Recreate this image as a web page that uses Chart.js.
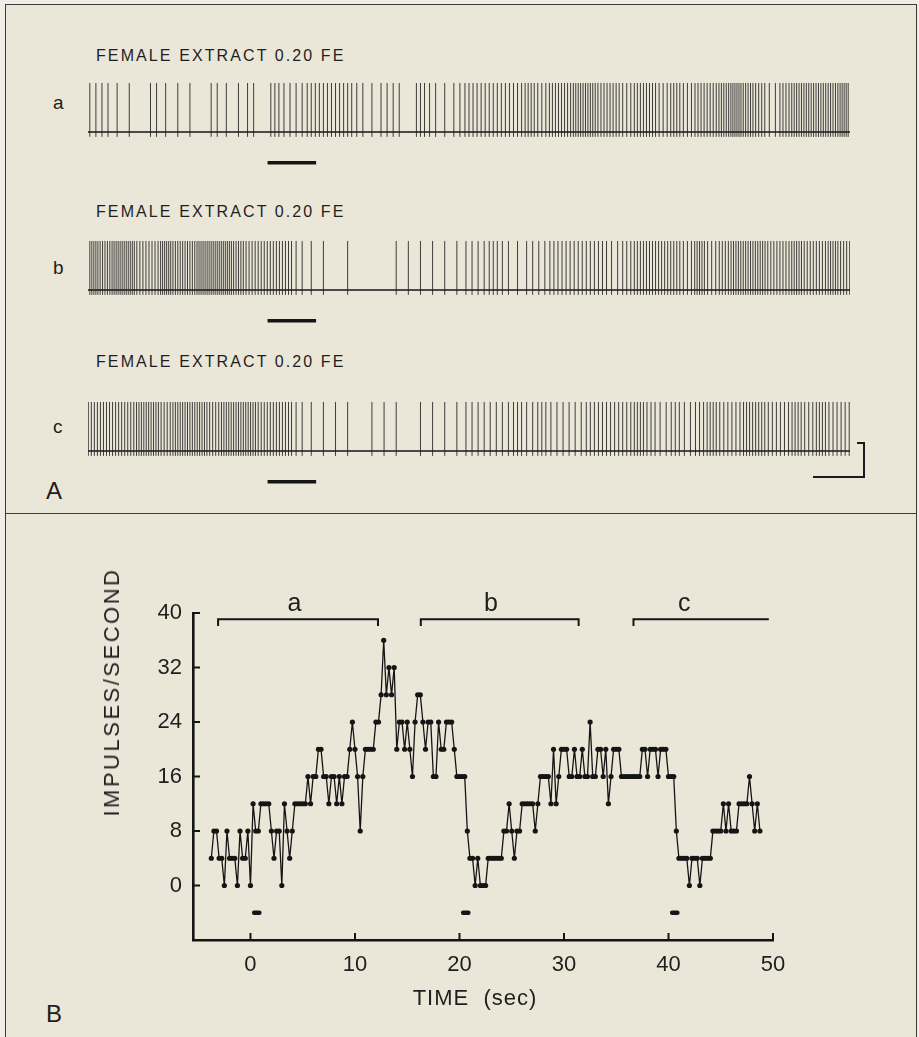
<!DOCTYPE html>
<html>
<head>
<meta charset="utf-8">
<script src="https://cdn.jsdelivr.net/npm/chart.js@4.4.1/dist/chart.umd.min.js"></script>
<style>
body { margin: 0; background: #efede6; }
#fig { position: relative; width: 919px; height: 1037px; overflow: hidden; background: #efede6;
       font-family: "Liberation Sans", Arial, Helvetica, sans-serif; color: #1e1e1e; }
.frame { position: absolute; left: 5px; top: 4px; width: 910px; height: 1040px; border: 1.5px solid #3a3a3a; background: #ebe7d8; }
.divider { position: absolute; left: 5px; top: 513px; width: 912px; height: 0; border-top: 1.5px solid #3a3a3a; }
.t { position: absolute; white-space: nowrap; line-height: 1; transform: translateY(-50%); }
.hdr { font-size: 16px; letter-spacing: 2.1px; }
.row { font-size: 19px; }
.panel { font-size: 24px; }
.bar { position: absolute; background: #1a1a1a; }
canvas { position: absolute; left: 0; }
</style>
</head>
<body>
<div id="fig">
  <div class="frame"></div>
  <div class="divider"></div>

  <div class="t hdr" style="left:96px; top:56px">FEMALE EXTRACT 0.20 FE</div>
  <div class="t hdr" style="left:96px; top:212px">FEMALE EXTRACT 0.20 FE</div>
  <div class="t hdr" style="left:96px; top:362px">FEMALE EXTRACT 0.20 FE</div>
  <div class="t row" style="left:53px; top:102px">a</div>
  <div class="t row" style="left:53px; top:267px">b</div>
  <div class="t row" style="left:53px; top:426px">c</div>
  <div class="t panel" style="left:46px; top:491px">A</div>
  <div class="t panel" style="left:46px; top:1014px">B</div>

  <canvas id="traceA" width="919" height="90" style="top:82px"></canvas>
  <canvas id="traceB" width="919" height="90" style="top:240px"></canvas>
  <canvas id="traceC" width="919" height="90" style="top:401px"></canvas>

  <!-- calibration bracket -->
  <div class="bar" style="left:863px; top:442px; width:2px; height:36px"></div>
  <div class="bar" style="left:857px; top:442px; width:8px; height:2px"></div>
  <div class="bar" style="left:813px; top:476px; width:52px; height:2px"></div>

  <canvas id="rateChart" width="919" height="470" style="top:540px"></canvas>
  <div class="t" style="left:112px; top:692px; font-size:22px; letter-spacing:2.5px; transform:translate(-50%,-50%) rotate(-90deg)">IMPULSES/SECOND</div>
  <div class="t" style="left:475px; top:998px; font-size:22px; letter-spacing:1px; transform:translate(-50%,-50%)">TIME&nbsp; (sec)</div>
</div>

<script>
// impulses/second in 0.25 s bins, first bin at -3.75 s
const binStart = -3.75;
const binWidth = 0.25;
const rate = [
  4, 8, 8, 4,   4, 0, 8, 4,   4, 4, 0, 8,   4, 4, 8, 0,
  12, 8, 8, 12,  12, 12, 12, 8,  4, 8, 8, 0,  12, 8, 4, 8,
  12, 12, 12, 12,  12, 16, 12, 16,  16, 20, 20, 16,  16, 12, 16, 16,
  12, 16, 12, 16,  16, 20, 24, 20,  16, 8, 16, 20,  20, 20, 20, 24,
  24, 28, 36, 28,  32, 28, 32, 20,  24, 24, 20, 24,  20, 16, 24, 28,
  28, 24, 20, 24,  24, 16, 16, 24,  20, 20, 24, 24,  24, 20, 16, 16,
  16, 16, 8, 4,   4, 0, 4, 0,   0, 0, 4, 4,   4, 4, 4, 4,
  8, 8, 12, 8,   4, 8, 8, 12,  12, 12, 12, 12,  8, 12, 16, 16,
  16, 16, 12, 20,  12, 16, 20, 20,  20, 16, 16, 20,  16, 16, 20, 16,
  16, 24, 16, 16,  20, 20, 16, 20,  12, 16, 20, 20,  20, 16, 16, 16,
  16, 16, 16, 16,  16, 20, 20, 16,  20, 20, 20, 16,  20, 20, 20, 16,
  16, 16, 8, 4,   4, 4, 4, 0,   4, 4, 4, 0,   4, 4, 4, 4,
  8, 8, 8, 8,   12, 8, 12, 8,  8, 8, 12, 12,  12, 12, 16, 12,
  8, 12, 8
];
// trace c runs on past the end of the plotted rate
const cTailRate = [12, 16, 12, 12, 16, 16, 12, 12, 16, 12, 16, 12, 12];

const traceStart = [-3.6, 16.4, 36.4];
const traceLength = 15.7;
const stimStart = [0.1, 20.1, 40.1];
const stimEnd = [1.1, 21.1, 41.1];

const bracketLabels = ['a', 'b', 'c'];
const bracketStart = [-3.1, 16.3, 36.65];
const bracketEnd = [12.2, 31.4, 49.6];
const bracketLabelAt = [4.2, 23.0, 41.5];

const xTicks = [0, 10, 20, 30, 40, 50];
const yTicks = [0, 8, 16, 24, 32, 40];

const FONT = '"Liberation Sans", Arial, Helvetica, sans-serif';
const INK = '#151515';

function spikeTimes(k) {
  const r = k === 2 ? rate.concat(cTailRate) : rate;
  const out = [];
  r.forEach((v, i) => {
    const n = v / 4;
    const c = binStart + i * binWidth;
    for (let j = 0; j < n; j++) out.push(c - binWidth / 2 + (j + 0.5) * binWidth / n);
  });
  return out;
}

function traceChart(id, k) {
  const t0 = traceStart[k], t1 = t0 + traceLength;
  const pts = [];
  spikeTimes(k).filter(s => s >= t0 && s <= t1).forEach(s => {
    pts.push({x: s, y: -0.1}, {x: s, y: 1}, {x: s, y: null});
  });
  new Chart(document.getElementById(id), {
    type: 'line',
    data: {
      datasets: [
        {data: pts, borderColor: 'rgba(30,30,30,0.85)', borderWidth: 1, pointRadius: 0, spanGaps: false},
        {data: [{x: t0, y: 0}, {x: t1, y: 0}], borderColor: INK, borderWidth: 1.6, pointRadius: 0},
        {data: [{x: stimStart[k], y: -0.63}, {x: stimEnd[k], y: -0.63}], borderColor: INK, borderWidth: 3.5, pointRadius: 0}
      ]
    },
    options: {
      responsive: false, animation: false, events: [],
      layout: {padding: {left: 88, right: 69, top: 0, bottom: 0}},
      plugins: {legend: {display: false}, tooltip: {enabled: false}},
      scales: {
        x: {type: 'linear', min: t0, max: t1, display: false},
        y: {min: -0.817, max: 1.02, display: false}
      }
    }
  });
}

traceChart('traceA', 0);
traceChart('traceB', 1);
traceChart('traceC', 2);

// panel B
const BRACKET_Y = 39.1, BRACKET_DROP = 1.0, STIM_Y = -4;
const datasets = [{
  data: rate.map((v, i) => ({x: binStart + i * binWidth, y: v})),
  borderColor: INK, borderWidth: 1.3,
  pointRadius: 2.6, pointBackgroundColor: INK, pointBorderWidth: 0
}];
bracketStart.forEach((s, i) => {
  const e = bracketEnd[i];
  const pts = [{x: s, y: BRACKET_Y - BRACKET_DROP}, {x: s, y: BRACKET_Y}, {x: e, y: BRACKET_Y}];
  if (i < 2) pts.push({x: e, y: BRACKET_Y - BRACKET_DROP});
  datasets.push({data: pts, borderColor: INK, borderWidth: 2, pointRadius: 0});
});
stimStart.forEach((s, i) => {
  datasets.push({data: [{x: s + 0.25, y: STIM_Y}, {x: stimEnd[i] - 0.25, y: STIM_Y}],
    borderColor: INK, borderWidth: 4.5, borderCapStyle: 'round', pointRadius: 0});
});

const extras = {
  id: 'extras',
  afterDatasetsDraw(chart) {
    const {ctx, scales: {x, y}} = chart;
    ctx.save();
    ctx.strokeStyle = INK;
    ctx.lineWidth = 2;
    xTicks.forEach(v => {
      const px = x.getPixelForValue(v);
      ctx.beginPath(); ctx.moveTo(px, y.bottom); ctx.lineTo(px, y.bottom - 7); ctx.stroke();
    });
    yTicks.forEach(v => {
      const py = y.getPixelForValue(v);
      ctx.beginPath(); ctx.moveTo(x.left, py); ctx.lineTo(x.left + 7, py); ctx.stroke();
    });
    ctx.fillStyle = '#1e1e1e';
    ctx.font = '25px ' + FONT;
    ctx.textAlign = 'center';
    ctx.textBaseline = 'alphabetic';
    bracketLabels.forEach((l, i) => {
      ctx.fillText(l, x.getPixelForValue(bracketLabelAt[i]), y.getPixelForValue(BRACKET_Y) - 8);
    });
    ctx.restore();
  }
};

new Chart(document.getElementById('rateChart'), {
  type: 'line',
  data: {datasets: datasets},
  plugins: [extras],
  options: {
    responsive: false, animation: false, events: [],
    layout: {padding: {left: 0, top: 73, right: 146, bottom: 30}},
    plugins: {legend: {display: false}, tooltip: {enabled: false}},
    scales: {
      x: {
        type: 'linear', min: -5.5, max: 50,
        afterBuildTicks: s => { s.ticks = xTicks.map(v => ({value: v})); },
        afterFit: s => { s.height = 40; },
        grid: {display: false, drawTicks: false},
        border: {display: true, color: INK, width: 2.6},
        ticks: {autoSkip: false, maxRotation: 0, padding: 12, color: '#1e1e1e', font: {family: FONT, size: 22}}
      },
      y: {
        min: -8, max: 40,
        afterBuildTicks: s => { s.ticks = yTicks.map(v => ({value: v})); },
        afterFit: s => { s.width = 193; },
        grid: {display: false, drawTicks: false},
        border: {display: true, color: INK, width: 2.6},
        ticks: {autoSkip: false, padding: 11, color: '#1e1e1e', font: {family: FONT, size: 22}}
      }
    }
  }
});
</script>
</body>
</html>
